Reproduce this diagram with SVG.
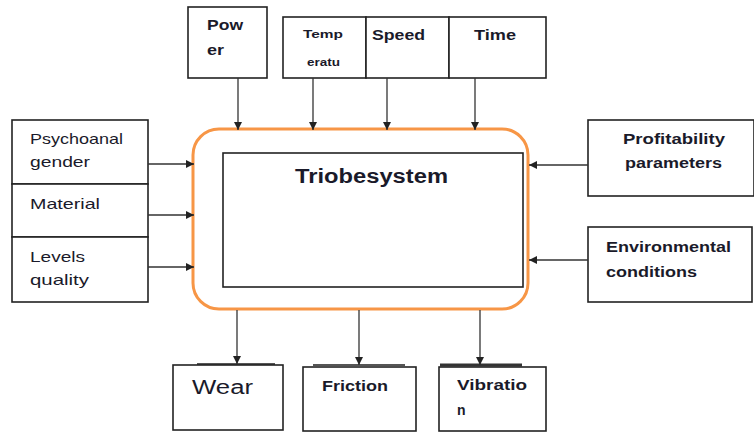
<svg xmlns="http://www.w3.org/2000/svg" width="754" height="432" viewBox="0 0 754 432">
<defs>
<marker id="ah" viewBox="0 0 8 8" refX="8" refY="4" markerWidth="8" markerHeight="8" markerUnits="userSpaceOnUse" orient="auto">
<path d="M0,0 L8,4 L0,8 z" fill="#222"/>
</marker>
<style>
.box{fill:#fff;stroke:#222;stroke-width:1.6}
.t{font-family:"Liberation Sans",Arial,sans-serif;fill:#1a1a2a}
.b{font-weight:bold}
.c{stroke:#333;stroke-width:1.3;fill:none;marker-end:url(#ah)}
</style>
</defs>
<rect width="754" height="432" fill="#fff"/>

<g id="system">
<rect x="193" y="129" width="335" height="180" rx="26" fill="#fff" stroke="#F79646" stroke-width="3"/>
<rect x="223" y="153" width="300" height="134" fill="#fff" stroke="#222" stroke-width="1.6"/>
<text class="t b" x="295" y="183" font-size="20" textLength="153" lengthAdjust="spacingAndGlyphs">Triobesystem</text>
</g>

<g id="power">
<rect class="box" x="188" y="7" width="79" height="71"/>
<text class="t b" x="207" y="30" font-size="14" textLength="36" lengthAdjust="spacingAndGlyphs">Pow</text>
<text class="t b" x="207" y="55" font-size="14" textLength="17" lengthAdjust="spacingAndGlyphs">er</text>
</g>
<g id="temperature">
<rect class="box" x="283" y="17" width="83" height="61"/>
<text class="t b" x="303" y="38" font-size="11" textLength="40" lengthAdjust="spacingAndGlyphs">Temp</text>
<text class="t b" x="307" y="66" font-size="11" textLength="33" lengthAdjust="spacingAndGlyphs">eratu</text>
</g>
<g id="speed">
<rect class="box" x="366" y="17" width="83" height="61"/>
<text class="t b" x="372" y="40" font-size="15" textLength="53" lengthAdjust="spacingAndGlyphs">Speed</text>
</g>
<g id="time">
<rect class="box" x="449" y="17" width="97" height="61"/>
<text class="t b" x="474" y="40" font-size="15" textLength="42" lengthAdjust="spacingAndGlyphs">Time</text>
</g>

<g id="psychoanal">
<rect class="box" x="12" y="120" width="136" height="64"/>
<text class="t" x="30" y="144" font-size="15" textLength="93" lengthAdjust="spacingAndGlyphs">Psychoanal</text>
<text class="t" x="30" y="167" font-size="15" textLength="60" lengthAdjust="spacingAndGlyphs">gender</text>
</g>
<g id="material">
<rect class="box" x="12" y="184" width="136" height="53"/>
<text class="t" x="30" y="209" font-size="15" textLength="70" lengthAdjust="spacingAndGlyphs">Material</text>
</g>
<g id="levels">
<rect class="box" x="12" y="237" width="136" height="65"/>
<text class="t" x="30" y="262" font-size="15" textLength="55" lengthAdjust="spacingAndGlyphs">Levels</text>
<text class="t" x="30" y="285" font-size="15" textLength="59" lengthAdjust="spacingAndGlyphs">quality</text>
</g>

<g id="profitability">
<rect class="box" x="588" y="120" width="166" height="76"/>
<text class="t b" x="623" y="144" font-size="14" textLength="102" lengthAdjust="spacingAndGlyphs">Profitability</text>
<text class="t b" x="625" y="168" font-size="14" textLength="97" lengthAdjust="spacingAndGlyphs">parameters</text>
</g>
<g id="environmental">
<rect class="box" x="588" y="227" width="164" height="75"/>
<text class="t b" x="606" y="252" font-size="14" textLength="125" lengthAdjust="spacingAndGlyphs">Environmental</text>
<text class="t b" x="606" y="277" font-size="14" textLength="91" lengthAdjust="spacingAndGlyphs">conditions</text>
</g>

<g id="wear">
<line x1="197" y1="364" x2="275" y2="364" stroke="#555" stroke-width="2"/>
<rect class="box" x="173" y="365" width="110" height="65"/>
<text class="t" x="192" y="394" font-size="20" textLength="61" lengthAdjust="spacingAndGlyphs">Wear</text>
</g>
<g id="friction">
<line x1="313" y1="365" x2="405" y2="365" stroke="#555" stroke-width="2"/>
<rect class="box" x="303" y="367" width="113" height="64"/>
<text class="t b" x="322" y="391" font-size="14" textLength="66" lengthAdjust="spacingAndGlyphs">Friction</text>
</g>
<g id="vibration">
<line x1="440" y1="365" x2="522" y2="365" stroke="#333" stroke-width="3"/>
<rect class="box" x="439" y="367" width="107" height="64"/>
<text class="t b" x="457" y="390" font-size="14" textLength="70" lengthAdjust="spacingAndGlyphs">Vibratio</text>
<text class="t b" x="457" y="415" font-size="14">n</text>
</g>

<g id="connectors">
<line class="c" x1="238" y1="78" x2="238" y2="130"/>
<line class="c" x1="313" y1="78" x2="313" y2="130"/>
<line class="c" x1="387" y1="78" x2="387" y2="130"/>
<line class="c" x1="475" y1="78" x2="475" y2="130"/>
<line class="c" x1="148" y1="164" x2="194" y2="164"/>
<line class="c" x1="148" y1="215" x2="194" y2="215"/>
<line class="c" x1="148" y1="267" x2="194" y2="267"/>
<line class="c" x1="588" y1="165" x2="529" y2="165"/>
<line class="c" x1="588" y1="260" x2="529" y2="260"/>
<line class="c" x1="237" y1="310" x2="237" y2="364"/>
<line class="c" x1="359" y1="310" x2="359" y2="365"/>
<line class="c" x1="480" y1="310" x2="480" y2="365"/>
</g>
</svg>
